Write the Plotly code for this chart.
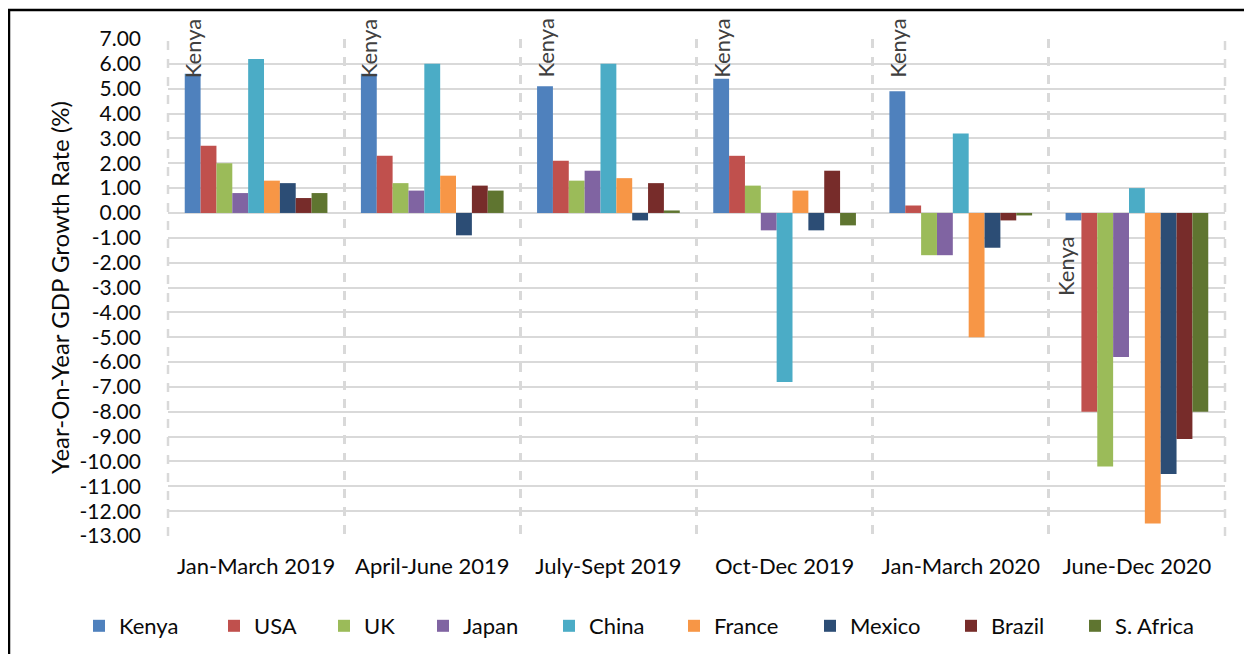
import plotly.graph_objects as go

# ---- data ----
quarters = ["Jan-March 2019", "April-June 2019", "July-Sept 2019",
            "Oct-Dec 2019", "Jan-March 2020", "June-Dec 2020"]

kenya = [5.6, 5.6, 5.1, 5.4, 4.9, -0.3]
usa = [2.7, 2.3, 2.1, 2.3, 0.3, -8.0]
uk = [2.0, 1.2, 1.3, 1.1, -1.7, -10.2]
japan = [0.8, 0.9, 1.7, -0.7, -1.7, -5.8]
china = [6.2, 6.0, 6.0, -6.8, 3.2, 1.0]
france = [1.3, 1.5, 1.4, 0.9, -5.0, -12.5]
mexico = [1.2, -0.9, -0.3, -0.7, -1.4, -10.5]
brazil = [0.6, 1.1, 1.2, 1.7, -0.3, -9.1]
s_africa = [0.8, 0.9, 0.1, -0.5, -0.1, -8.0]

countries = ["Kenya", "USA", "UK", "Japan", "China", "France", "Mexico", "Brazil", "S. Africa"]
series = [kenya, usa, uk, japan, china, france, mexico, brazil, s_africa]
colors = ["#4F81BD", "#C0504D", "#9BBB59", "#8064A2", "#4BACC6",
          "#F79646", "#2C4D75", "#772C2A", "#5F7530"]

y_ticks = list(range(-13, 8))
y_labels = [f"{v:.2f}" for v in y_ticks]

FONT = "Lato"
TXT = "#0a0a0a"
OFF = 8  # page body margin
W, H = 1252 - OFF, 654 - OFF
ML, MT = 168 - OFF, 39 - OFF
MR = W - (1225 - OFF)
MB = H - (536 - OFF)
PW = W - ML - MR
PH = H - MT - MB


def px_x(px):
    return (px - OFF - ML) / PW


def px_y(py):
    return (MT + PH - (py - OFF)) / PH


fig = go.Figure()

# legend square left edges in px (Excel spaces them unevenly)
legend_px = [94, 229, 339, 438, 564, 689, 825, 966, 1090]

for i, (name, vals, col) in enumerate(zip(countries, series, colors)):
    lg = "legend" if i == 0 else f"legend{i + 1}"
    fig.add_trace(go.Bar(x=quarters, y=vals, name=name, legend=lg,
                         marker=dict(color=col, line=dict(width=0))))

legends = {}
for i, px in enumerate(legend_px):
    key = "legend" if i == 0 else f"legend{i + 1}"
    legends[key] = dict(x=px_x(px - 15), xanchor="left",
                        y=px_y(626), yanchor="middle",
                        orientation="h", bgcolor="rgba(0,0,0,0)",
                        font=dict(family=FONT, size=22, color=TXT),
                        itemclick=False, itemdoubleclick=False)

# "Kenya" data labels (rotated) as in the reference
bar_w = PW / len(quarters) * (1 - 0.19) / len(countries)
kenya_shift = -4 * bar_w
annotations = []
for q, v in zip(quarters, kenya):
    if v > 0:
        annotations.append(dict(x=q, y=5.35, xref="x", yref="y", text="Kenya",
                                textangle=-90, showarrow=False, yanchor="bottom",
                                xshift=kenya_shift,
                                font=dict(family=FONT, size=22, color="#404040")))
    else:
        annotations.append(dict(x=q, y=-2.15, xref="x", yref="y", text="Kenya",
                                textangle=-90, showarrow=False, yanchor="middle",
                                xshift=kenya_shift - 8,
                                font=dict(family=FONT, size=22, color="#404040")))

shapes = [
    # outer black frame
    dict(type="rect", xref="paper", yref="paper",
         x0=px_x(OFF + 1), x1=px_x(1249.5),
         y0=px_y(680), y1=px_y(10),
         line=dict(color="black", width=2.5), fillcolor="rgba(0,0,0,0)", layer="below"),
    # left / right dashed plot edges
    dict(type="line", xref="paper", yref="paper", x0=0, x1=0, y0=0, y1=1,
         line=dict(color="#D9D9D9", width=2.5, dash="dash"), layer="below"),
    dict(type="line", xref="paper", yref="paper", x0=1, x1=1, y0=0, y1=1,
         line=dict(color="#D9D9D9", width=2.5, dash="dash"), layer="below"),
]

fig.update_layout(
    width=W, height=H,
    margin=dict(l=ML, r=MR, t=MT, b=MB, autoexpand=False),
    paper_bgcolor="white", plot_bgcolor="white",
    barmode="group", bargap=0.19, bargroupgap=0,
    showlegend=True,
    annotations=annotations,
    shapes=shapes,
    font=dict(family=FONT, size=21, color=TXT),
    **legends,
)

fig.update_xaxes(
    type="category", tickson="boundaries", automargin=False,
    showgrid=True, gridcolor="#D9D9D9", gridwidth=2.5, griddash="dash",
    ticks="", ticklabelstandoff=15,
    showline=False, zeroline=False,
    tickfont=dict(family=FONT, size=22, color=TXT),
)

fig.update_yaxes(
    range=[-13, 7], tickvals=y_ticks, ticktext=y_labels, automargin=False,
    showgrid=True, gridcolor="#D9D9D9", gridwidth=2,
    zeroline=True, zerolinecolor="#D9D9D9", zerolinewidth=2,
    showline=False, ticks="", ticklabelstandoff=26,
    tickfont=dict(family=FONT, size=21, color=TXT),
    title=dict(text="Year-On-Year GDP Growth Rate (%)", standoff=3,
               font=dict(family=FONT, size=24, color=TXT)),
)

fig.write_html("out.html")
